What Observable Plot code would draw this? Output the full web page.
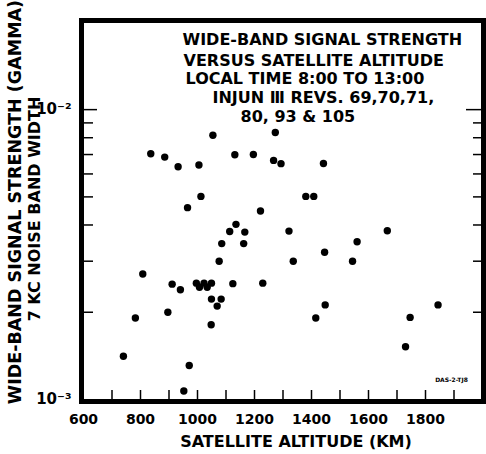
<!DOCTYPE html>
<html><head><meta charset="utf-8">
<script src="https://cdn.jsdelivr.net/npm/d3@7"></script>
<script src="https://cdn.jsdelivr.net/npm/@observablehq/plot@0.6"></script>
<style>body{margin:0;background:#fff}</style>
</head><body><div id="chart"></div>
<script>
// Satellite altitude (km) and wide-band signal strength (gamma)
const altitude = [740, 782, 808, 836, 885, 932, 896, 911, 940, 965, 971, 952,
  1005, 1012, 996, 1007, 1023, 1034, 1049, 1049, 1048, 1054, 1069, 1083, 1076,
  1085, 1113, 1135, 1124, 1131, 1166, 1162, 1196, 1221, 1229, 1273, 1267, 1293,
  1321, 1336, 1380, 1408, 1415, 1442, 1446, 1448, 1544, 1560, 1666, 1730, 1746, 1844];
const strength = [1.41e-3, 1.91e-3, 2.71e-3, 7.04e-3, 6.86e-3, 6.35e-3, 2.0e-3, 2.5e-3, 2.39e-3, 4.59e-3, 1.31e-3, 1.07e-3,
  6.44e-3, 5.02e-3, 2.52e-3, 2.44e-3, 2.52e-3, 2.44e-3, 2.52e-3, 2.22e-3, 1.81e-3, 8.16e-3, 2.10e-3, 2.22e-3, 3.0e-3,
  3.45e-3, 3.80e-3, 4.02e-3, 2.51e-3, 6.99e-3, 3.78e-3, 3.45e-3, 7.0e-3, 4.47e-3, 2.52e-3, 8.34e-3, 6.68e-3, 6.51e-3,
  3.81e-3, 3.0e-3, 5.02e-3, 5.02e-3, 1.91e-3, 6.52e-3, 3.22e-3, 2.12e-3, 3.0e-3, 3.50e-3, 3.82e-3, 1.52e-3, 1.92e-3, 2.12e-3];
const xTickLabels = [600, 800, 1000, 1200, 1400, 1600, 1800];
const xMinorTicks = [700, 800, 900, 1000, 1100, 1200, 1300, 1400, 1500, 1600, 1700, 1800, 1900];
const yLabelTicks = [1e-3, 1e-2];
const yMinorTicks = [2e-3, 3e-3, 4e-3, 5e-3, 6e-3, 7e-3, 8e-3, 9e-3];
const yMajorTicks = [1e-2];
const titleLines = ["WIDE-BAND SIGNAL STRENGTH", "VERSUS SATELLITE ALTITUDE", "LOCAL TIME 8:00 TO 13:00", "INJUN \u2162 REVS. 69,70,71,", "80, 93 & 105"];
const xLabel = "SATELLITE ALTITUDE (KM)";
const yLabel1 = "WIDE-BAND SIGNAL STRENGTH (GAMMA)";
const yLabel2 = "7 KC NOISE BAND WIDTH";
const stamp = "DAS-2-TJ8";

const points = altitude.map((a, i) => ({altitude: a, strength: strength[i]}));

// layout offsets for title lines (px from top-left of frame)
const titleOffsets = [[99, 19], [100, 40], [102, 58], [129, 77], [157, 96]];

const chart = Plot.plot({
  width: 486,
  height: 454,
  marginLeft: 83,
  marginRight: 4,
  marginTop: 20,
  marginBottom: 55,
  style: {fontFamily: "DejaVu Sans", fontWeight: "bold", background: "white", color: "black"},
  x: {domain: [600, 2000]},
  y: {type: "log", domain: [1e-3, 2.03e-2]},
  marks: [
    Plot.axisX(xMinorTicks, {anchor: "bottom", tickSize: -9, strokeWidth: 1.5, tickFormat: () => "", label: null}),
    Plot.axisX(xTickLabels, {anchor: "bottom", tickSize: 0, tickPadding: 15, fontSize: 14, label: null, tickFormat: d => String(d)}),
    Plot.axisY(yMinorTicks, {anchor: "left", tickSize: -10, strokeWidth: 1.5, tickFormat: () => "", label: null}),
    Plot.axisY(yMajorTicks, {anchor: "left", tickSize: -14, strokeWidth: 1.5, tickFormat: () => "", label: null}),
    Plot.axisY(yMinorTicks, {anchor: "right", tickSize: -10, strokeWidth: 1.5, tickFormat: () => "", label: null}),
    Plot.axisY(yMajorTicks, {anchor: "right", tickSize: -17, strokeWidth: 1.5, tickFormat: () => "", label: null}),
    Plot.axisY(yLabelTicks, {anchor: "left", tickSize: 0, tickPadding: 12, fontSize: 15, label: null,
      tickFormat: d => d < 5e-3 ? "10\u207B\u00B3" : "10\u207B\u00B2"}),
    Plot.frame({stroke: "black", strokeWidth: 5, insetLeft: -2, insetTop: 0, insetBottom: -2, insetRight: -1}),
    Plot.dot(points, {x: "altitude", y: "strength", r: 3.7, fill: "black", stroke: "none"}),
    ...titleLines.map((t, i) => Plot.text([t], {frameAnchor: "top-left", dx: titleOffsets[i][0], dy: titleOffsets[i][1],
      textAnchor: "start", lineAnchor: "middle", fontSize: 16, fill: "black"})),
    Plot.text([xLabel], {frameAnchor: "bottom", dx: 13, dy: 42, textAnchor: "middle", lineAnchor: "middle", fontSize: 16, fill: "black"}),
    Plot.text([yLabel1], {frameAnchor: "left", dx: -68, dy: -8, rotate: -90, textAnchor: "middle", lineAnchor: "middle", fontSize: 17.5, fill: "black"}),
    Plot.text([yLabel2], {frameAnchor: "left", dx: -49, dy: -1, rotate: -90, textAnchor: "middle", lineAnchor: "middle", fontSize: 16, fill: "black"}),
    Plot.text([stamp], {frameAnchor: "bottom-right", dx: -31, dy: -19, textAnchor: "middle", lineAnchor: "middle", fontSize: 6, fill: "black"})
  ]
});
document.getElementById("chart").appendChild(chart);
</script>
</body></html>
